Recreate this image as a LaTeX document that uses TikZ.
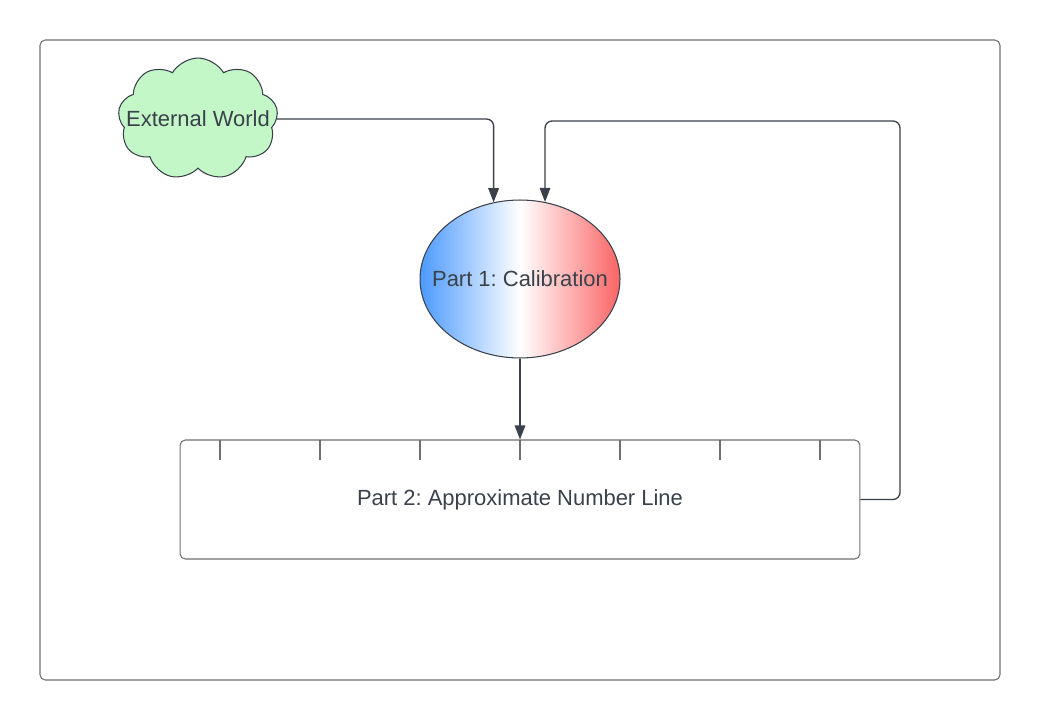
\documentclass[tikz,border=0pt]{standalone}
\usepackage{fontspec}
\setmainfont{Liberation Sans}
\frenchspacing
\usetikzlibrary{shapes.geometric,shapes.symbols,arrows.meta}
\definecolor{inkgray}{HTML}{3A414A}
\definecolor{framegray}{HTML}{707070}
\definecolor{cloudgreen}{HTML}{C3F7C8}
\definecolor{calblue}{HTML}{4C9AFF}
\definecolor{calred}{HTML}{F96464}

\begin{document}
\begin{tikzpicture}[x=0.02cm, y=-0.02cm,
    every node/.style={text=inkgray, font=\fontsize{12.5}{15}\selectfont},
    every label/.style={text=inkgray, font=\fontsize{12.5}{15}\selectfont},
    conn/.style={draw=inkgray, line width=0.75pt, rounded corners=4pt,
      -{Triangle[length=8pt, width=6pt]}}]
    \useasboundingbox (0,0) rectangle (1040,720);

    %% Outer frame
    \draw[framegray, line width=0.6pt, rounded corners=3pt] (40,40) rectangle (1000,680);

    %% External world cloud
    \node[cloud, cloud puffs=9, cloud puff arc=120, cloud ignores aspect,
      draw=inkgray, fill=cloudgreen, line width=0.6pt,
      minimum width=3.2cm, minimum height=2.44cm, inner sep=0pt,
      label=center:External World]
      (world) at (198,119) {};

    %% Calibration
    \node[ellipse, draw=inkgray, line width=0.6pt,
      left color=calblue, right color=calred, middle color=white,
      minimum width=4cm, minimum height=3.16cm, inner sep=0pt,
      label=center:Part 1: Calibration]
      (calib) at (520,279) {};

    %% Number line
    \node[draw=framegray, line width=0.6pt, rounded corners=3pt,
      minimum width=13.6cm, minimum height=2.38cm, inner sep=0pt]
      (numline) at (520,499.5) {Part 2: Approximate Number Line};
    \foreach \k in {0,...,6}
      \draw[framegray, line width=0.6pt] (220+100*\k,440) -- ++(0,20);

    %% Connectors
    \coordinate (loop) at (900,121);
    \draw[conn] (world.east) -| (calib.109.6);
    \draw[conn] (numline.east) -| (loop) -| (calib.72.6);
    \draw[conn] (calib.south) -- (numline.north);
\end{tikzpicture}
\end{document}
